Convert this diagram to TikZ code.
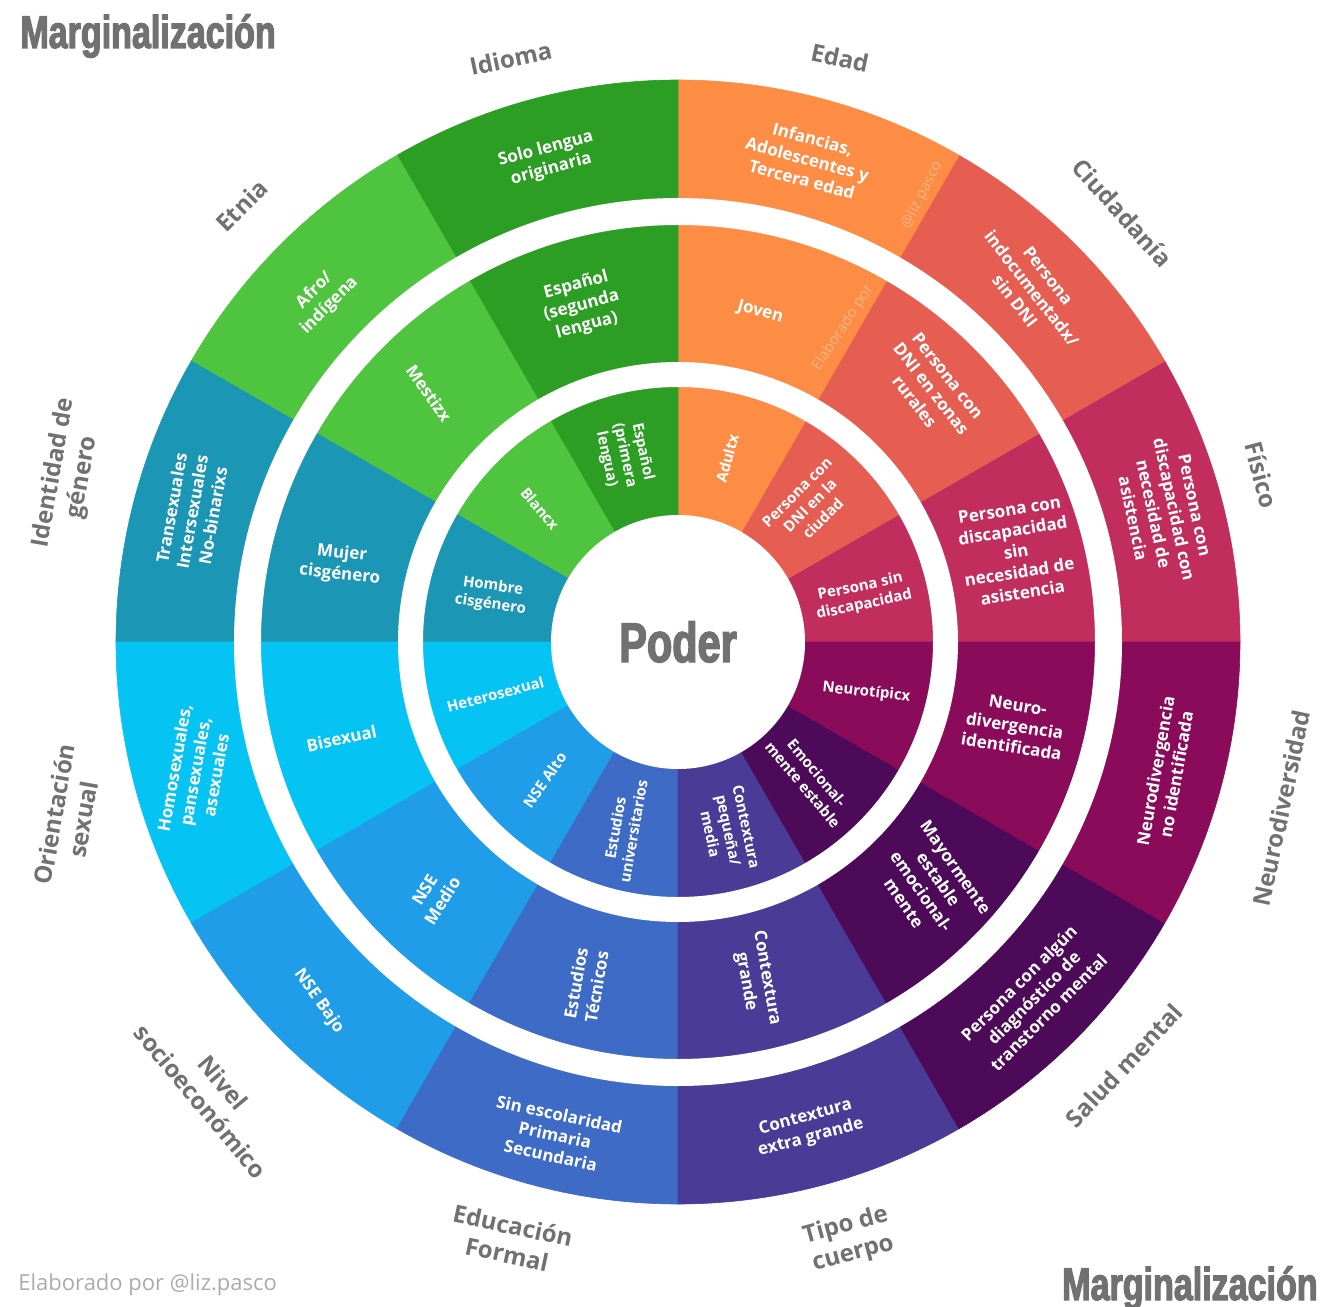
\documentclass[tikz,border=0pt]{standalone}
\usepackage{fontspec}
\setmainfont{Open Sans}
\setsansfont{Open Sans}
\newfontfamily\condfont[FakeStretch=0.74, FakeBold=2.5]{Liberation Sans}
\usetikzlibrary{positioning}

\definecolor{fisico}{HTML}{C12D5D}
\definecolor{ciudadania}{HTML}{E65E52}
\definecolor{edad}{HTML}{FD8C45}
\definecolor{idioma}{HTML}{2C9E24}
\definecolor{etnia}{HTML}{4EC43F}
\definecolor{genero}{HTML}{1B96B4}
\definecolor{orientacion}{HTML}{05C3F2}
\definecolor{nse}{HTML}{1F9DE8}
\definecolor{educacion}{HTML}{3D6BC6}
\definecolor{cuerpo}{HTML}{4A3B96}
\definecolor{salud}{HTML}{4C0A58}
\definecolor{neuro}{HTML}{8B0B5B}
\definecolor{gris}{HTML}{717171}
\definecolor{grisclaro}{HTML}{ABABAB}

\tikzset{
  celda/.style={text=white, font=\bfseries\fontsize{8.5}{10.5}\selectfont,
    align=center, inner sep=1pt},
  celdachica/.style={celda, font=\bfseries\fontsize{7.5}{9.2}\selectfont},
  etiqueta/.style={text=gris, font=\bfseries\fontsize{12}{14.5}\selectfont,
    align=center, inner sep=1pt},
  titulo/.style={text=gris, font=\condfont\bfseries\fontsize{23}{26}\selectfont,
    inner sep=0pt},
  marca/.style={text=white, opacity=0.35, font=\fontsize{7.5}{9}\selectfont}
}

\begin{document}
\begin{tikzpicture}[x=0.5pt, y=0.5pt]
  \useasboundingbox (-678,-664) rectangle (654,642);

  % sectores, de 0 grados en sentido antihorario
  \foreach \col [count=\k from 0] in
    {fisico,ciudadania,edad,idioma,etnia,genero,orientacion,nse,educacion,cuerpo,salud,neuro}
    \filldraw[fill=\col, draw=\col, line width=0.3pt]
      (0,0) -- (30*\k:562) arc[start angle=30*\k, end angle=30*\k+30, radius=562] -- cycle;

  % anillos blancos
  \fill[white, even odd rule] (0,0) circle[radius=444] (0,0) circle[radius=417];
  \fill[white, even odd rule] (0,0) circle[radius=280] (0,0) circle[radius=255];
  \fill[white] (0,0) circle[radius=127];

  \node[titulo, font=\condfont\bfseries\fontsize{28}{30}\selectfont] (poder) at (0,0) {Poder};

  % anillo exterior
  \node[celda, rotate=15]  (idioma-ext) at (105:500) {Solo lengua\\originaria};
  \node[celda, rotate=-15] (edad-ext) at (75:500) {Infancias,\\Adolescentes y\\Tercera edad};
  \node[celda, rotate=-52] (ciudadania-ext) at (45:500) {Persona\\indocumentadx/\\sin DNI};
  \node[celda, rotate=-78] (fisico-ext) at (15:503) {Persona con\\discapacidad con\\necesidad de\\asistencia};
  \node[celda, rotate=80]  (neuro-ext) at (-15:505) {Neurodivergencia\\no identificada};
  \node[celda, rotate=45]  (salud-ext) at (-45:503) {Persona con algún\\diagnóstico de\\transtorno mental};
  \node[celda, rotate=15]  (cuerpo-ext) at (-75:503) {Contextura\\extra grande};
  \node[celda, rotate=-12] (educacion-ext) at (-104:508) {Sin escolaridad\\Primaria\\Secundaria};
  \node[celda, rotate=-55] (nse-ext) at (-135:508) {NSE Bajo};
  \node[celda, rotate=80]  (orientacion-ext) at (-165:500) {Homosexuales,\\pansexuales,\\asexuales};
  \node[celda, rotate=80]  (genero-ext) at (165:503) {Transexuales\\Intersexuales\\No-binarixs};
  \node[celda, rotate=45]  (etnia-ext) at (136:495) {Afro/\\indígena};

  % anillo medio
  \node[celda, rotate=15]  (idioma-med) at (106:350) {Español\\(segunda\\lengua)};
  \node[celda, rotate=-15] (edad-med) at (76:340) {Joven};
  \node[celda, rotate=-52] (ciudadania-med) at (45:358) {Persona con\\DNI en zonas\\rurales};
  \node[celda, rotate=9]   (fisico-med) at (15:350) {Persona con\\discapacidad\\sin\\necesidad de\\asistencia};
  \node[celda, rotate=-9]  (neuro-med) at (-14:347) {Neuro-\\divergencia\\identificada};
  \node[celda, rotate=-55] (salud-med) at (-44:350) {Mayormente\\estable\\emocional-\\mente};
  \node[celda, rotate=-80] (cuerpo-med) at (-77:347) {Contextura\\grande};
  \node[celda, rotate=80]  (educacion-med) at (-105:355) {Estudios\\Técnicos};
  \node[celda, rotate=58]  (nse-med) at (-134:352) {NSE\\Medio};
  \node[celda, rotate=12]  (orientacion-med) at (-164:350) {Bisexual};
  \node[celda, rotate=-6]  (genero-med) at (167:346) {Mujer\\cisgénero};
  \node[celda, rotate=-55] (etnia-med) at (135:352) {Mestizx};

  % anillo interior
  \node[celdachica, rotate=-78] (idioma-int) at (106:194) {Español\\(primera\\lengua)};
  \node[celdachica, rotate=75]  (edad-int) at (75:190) {Adultx};
  \node[celdachica, rotate=45]  (ciudadania-int) at (46:190) {Persona con\\DNI en la\\ciudad};
  \node[celdachica, rotate=12]  (fisico-int) at (14:190) {Persona sin\\discapacidad};
  \node[celdachica, rotate=-6]  (neuro-int) at (-15:195) {Neurotípicx};
  \node[celdachica, rotate=-50] (salud-int) at (-46:190) {Emocional-\\mente estable};
  \node[celdachica, rotate=-78] (cuerpo-int) at (-75:195) {Contextura\\pequeña/\\media};
  \node[celdachica, rotate=80]  (educacion-int) at (-106:195) {Estudios\\universitarios};
  \node[celdachica, rotate=55]  (nse-int) at (-134:192) {NSE Alto};
  \node[celdachica, rotate=15]  (orientacion-int) at (-164:190) {Heterosexual};
  \node[celdachica, rotate=-8]  (genero-int) at (166:192) {Hombre\\cisgénero};
  \node[celdachica, rotate=-50] (etnia-int) at (136:192) {Blancx};

  % nombres de las categorias
  \node[etiqueta, rotate=12]  (idioma-lbl) at (106:607) {Idioma};
  \node[etiqueta, rotate=-12] (edad-lbl) at (74.5:606) {Edad};
  \node[etiqueta, rotate=-48] (ciudadania-lbl) at (44:618) {Ciudadanía};
  \node[etiqueta, rotate=-75] (fisico-lbl) at (16:607) {Físico};
  \node[etiqueta, rotate=78]  (neuro-lbl) at (-15.4:626) {Neurodiversidad};
  \node[etiqueta, rotate=47]  (salud-lbl) at (-43.5:615) {Salud mental};
  \node[etiqueta, rotate=15]  (cuerpo-lbl) at (-74:622) {Tipo de\\cuerpo};
  \node[etiqueta, rotate=-12] (educacion-lbl) at (-105.7:621) {Educación\\Formal};
  \node[etiqueta, rotate=-50] (nse-lbl) at (-136:648) {Nivel\\socioeconómico};
  \node[etiqueta, rotate=80]  (orientacion-lbl) at (-164:634) {Orientación\\sexual};
  \node[etiqueta, rotate=80]  (genero-lbl) at (164.7:632) {Identidad de\\género};
  \node[etiqueta, rotate=45]  (etnia-lbl) at (135:617) {Etnia};

  % marcas de agua
  \node[marca, rotate=57] (marca-joven) at (165,314) {Elaborado por};
  \node[marca, rotate=63] (marca-edad) at (244,447) {@liz.pasco};

  % textos de las esquinas
  \node[titulo, anchor=base west] (marg-arriba) at (-658,594) {Marginalización};
  \node[titulo, anchor=base east] (marg-abajo) at (640,-658) {Marginalización};
  \node[text=grisclaro, font=\fontsize{11}{13}\selectfont, anchor=base west, inner sep=0pt]
    (firma) at (-660,-648) {Elaborado por @liz.pasco};
\end{tikzpicture}
\end{document}
